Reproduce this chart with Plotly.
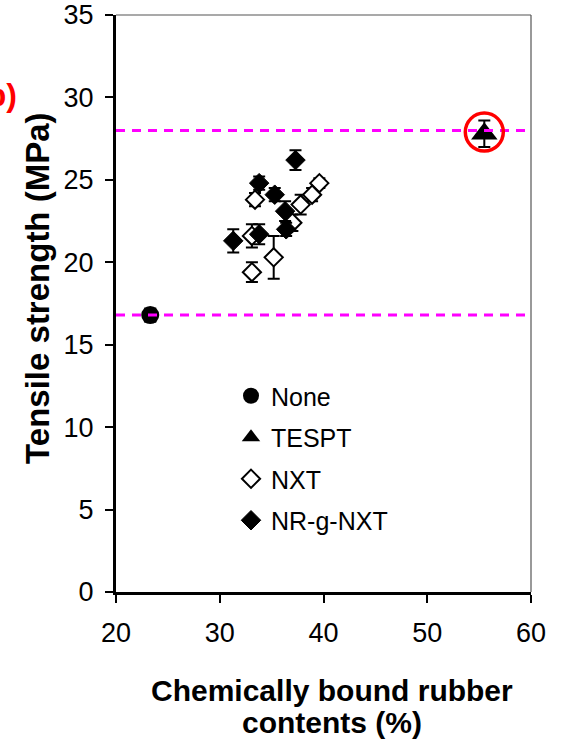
import plotly.graph_objects as go

# Chemically bound rubber content (%) vs tensile strength (MPa) per coupling agent
none_x = [23.3]
none_y = [16.8]
none_err = [0.4]

tespt_x = [55.5]
tespt_y = [27.8]
tespt_err = [0.8]

nxt_x = [33.4, 39.6, 38.9, 37.8, 37.0, 33.1, 33.1, 35.2]
nxt_y = [23.8, 24.8, 24.1, 23.5, 22.4, 21.6, 19.4, 20.3]
nxt_err = [0.4, 0.3, 0.4, 0.6, 0.5, 0.7, 0.6, 1.3]

nrg_x = [37.3, 33.8, 35.3, 36.3, 36.4, 31.3, 33.8]
nrg_y = [26.2, 24.8, 24.1, 23.1, 22.0, 21.3, 21.7]
nrg_err = [0.6, 0.4, 0.4, 0.6, 0.4, 0.7, 0.6]

# reference levels (None and TESPT) shown as dashed lines
ref_levels = [16.8, 28.0]

x_ticks = [20, 30, 40, 50, 60]
y_ticks = [0, 5, 10, 15, 20, 25, 30, 35]

FONT = "Liberation Sans, Arial, sans-serif"


def err(vals):
    return dict(type="data", array=vals, visible=True, color="black",
                thickness=2, width=6)


fig = go.Figure()
fig.add_trace(go.Scatter(
    x=none_x, y=none_y, mode="markers", name="None", legendgroup="a",
    error_y=err(none_err),
    marker=dict(symbol="circle", size=18, color="black")))
fig.add_trace(go.Scatter(
    x=tespt_x, y=tespt_y, mode="markers", name="TESPT", legendgroup="b",
    error_y=err(tespt_err),
    marker=dict(symbol="triangle-up", size=23, color="black")))
fig.add_trace(go.Scatter(
    x=nxt_x, y=nxt_y, mode="markers", name="NXT", legendgroup="c",
    error_y=err(nxt_err),
    marker=dict(symbol="diamond", size=14, color="white",
                line=dict(color="black", width=2))))
fig.add_trace(go.Scatter(
    x=nrg_x, y=nrg_y, mode="markers", name="NR-g-NXT", legendgroup="d",
    error_y=err(nrg_err),
    marker=dict(symbol="diamond", size=15, color="black",
                line=dict(color="black", width=1))))

for lvl in ref_levels:
    fig.add_shape(type="line", xref="paper", yref="y", x0=0, x1=1,
                  y0=lvl, y1=lvl, layer="above",
                  line=dict(color="#FF00FF", width=3, dash="9px,7px"))

# frame: thin top and right edges
fig.add_shape(type="line", xref="paper", yref="paper", x0=0, x1=1, y0=1, y1=1,
              line=dict(color="#555555", width=1.2))
fig.add_shape(type="line", xref="paper", yref="paper", x0=1, x1=1, y0=0, y1=1,
              line=dict(color="#555555", width=1.2))

# highlight ring around the TESPT point
fig.add_shape(type="circle", xref="x", yref="y",
              xsizemode="pixel", ysizemode="pixel",
              xanchor=tespt_x[0], yanchor=tespt_y[0] + 0.1,
              x0=-19, x1=19, y0=-19, y1=19, layer="above",
              line=dict(color="#FF0000", width=3.5))

fig.add_annotation(text="<b>Chemically bound rubber</b>", xref="paper", yref="paper",
                   x=0.52, y=0, xanchor="center", yanchor="middle", yshift=-98,
                   showarrow=False, font=dict(family=FONT, size=30, color="black"))
fig.add_annotation(text="<b>contents (%)</b>", xref="paper", yref="paper",
                   x=0.52, y=0, xanchor="center", yanchor="middle", yshift=-130,
                   showarrow=False, font=dict(family=FONT, size=30, color="black"))
fig.add_annotation(text="<b>Tensile strength (MPa)</b>", xref="paper", yref="paper",
                   x=-0.188, y=0.527, xanchor="center", yanchor="middle",
                   textangle=-90, showarrow=False,
                   font=dict(family=FONT, size=33, color="black"))
fig.add_annotation(text="<b>(b)</b>", xref="paper", yref="paper",
                   x=-0.234, xanchor="right", y=0.861, yanchor="middle",
                   showarrow=False, font=dict(family=FONT, size=32, color="#FF0000"))

fig.update_xaxes(range=[20, 60], tickvals=x_ticks, ticks="outside", ticklen=8,
                 tickwidth=2, tickcolor="black", showline=True, linecolor="black",
                 linewidth=3, showgrid=False, zeroline=False, automargin=False,
                 tickfont=dict(family=FONT, size=27, color="black"),
                 ticklabelstandoff=7)
fig.update_yaxes(range=[0, 35], tickvals=y_ticks, ticks="outside", ticklen=8,
                 tickwidth=2, tickcolor="black", showline=True, linecolor="black",
                 linewidth=3, showgrid=False, zeroline=False, automargin=False,
                 tickfont=dict(family=FONT, size=27, color="black"),
                 ticklabelstandoff=6)

fig.update_layout(
    width=561, height=744,
    margin=dict(l=116, r=30, t=15, b=152, autoexpand=False),
    paper_bgcolor="white", plot_bgcolor="white",
    showlegend=True,
    legend=dict(x=(231 - 116) / 415, y=(592 - 373) / 577, xanchor="left",
                yanchor="top", bgcolor="rgba(0,0,0,0)",
                traceorder="grouped", tracegroupgap=6, itemwidth=30,
                font=dict(family=FONT, size=25, color="black")),
)

fig.write_html("out.html")
